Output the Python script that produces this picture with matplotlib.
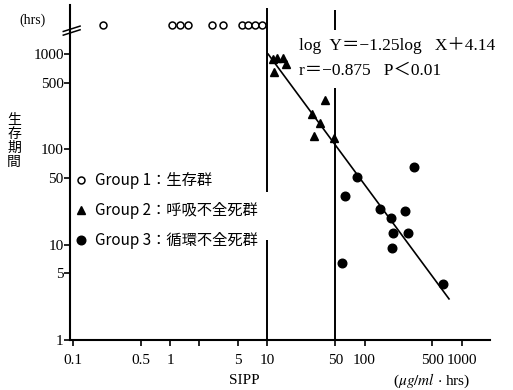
import matplotlib

matplotlib.use("Agg")
import matplotlib.pyplot as plt
from matplotlib.ticker import NullLocator

plt.rcParams["font.family"] = ["Liberation Serif", "Noto Sans CJK JP"]
plt.rcParams["mathtext.fontset"] = "stix"

# group 1: survivors, drawn above the axis break
g1_x = [0.204, 1.05, 1.26, 1.53, 2.70, 3.50, 5.49, 6.33, 7.46, 8.81]
surv_y = 2020

# group 2: respiratory failure deaths
g2_x = [11.4, 12.6, 14.5, 15.6, 11.7, 39.2, 28.8, 34.8, 30.2, 48.5]
g2_y = [886, 907, 907, 785, 646, 328, 234, 188, 137, 131]

# group 3: circulatory failure deaths
g3_x = [323, 83.7, 63, 144, 261, 187, 196, 280, 192, 58.6, 641]
g3_y = [66, 51, 32.8, 23.9, 22.8, 19.2, 13.4, 13.4, 9.3, 6.5, 3.9]

# regression line end points
line_x = [10.2, 740]
line_y = [1000, 2.7]

# reference lines at SIPP 10 and 50 (segments, broken by labels)
ref_segments = [
    (10, 1, 11.2), (10, 35.7, 3050),
    (50, 1, 441), (50, 1790, 2900),
]

x_ticks = [0.1, 0.5, 1, 2, 5, 10, 50, 100, 500, 1000]
x_labels = ["0.1", "0.5", "1", "", "5", "10", "50", "100", "500", "1000"]
y_ticks = [1, 5, 10, 50, 100, 500, 1000]
y_labels = ["1", "5", "10", "50", "100", "500", "1000"]

W, H = 513, 390
fig = plt.figure(figsize=(W / 100, H / 100), dpi=100)
ax = fig.add_axes([70 / W, 50 / H, 420 / W, 335 / H])
ax.set_xscale("log")
ax.set_yscale("log")
ax.set_xlim(0.0933, 1954)
ax.set_ylim(1, 3275)

for x, y0, y1 in ref_segments:
    ax.plot([x, x], [y0, y1], color="black", lw=1.4, solid_capstyle="butt")

ax.plot(line_x, line_y, color="black", lw=1.2)

h1, = ax.plot(g1_x, [surv_y] * len(g1_x), "o", mfc="white", mec="black",
              ms=5, mew=1.1, clip_on=False)
h2, = ax.plot(g2_x, g2_y, "^", color="black", ms=5.5)
h3, = ax.plot(g3_x, g3_y, "o", color="black", ms=6.2)

ax.spines["top"].set_visible(False)
ax.spines["right"].set_visible(False)
ax.spines["left"].set_linewidth(1.5)
ax.spines["bottom"].set_linewidth(1.5)

ax.set_xticks(x_ticks)
ax.set_xticklabels(x_labels)
ax.set_yticks(y_ticks)
ax.set_yticklabels(y_labels)
ax.xaxis.set_minor_locator(NullLocator())
ax.yaxis.set_minor_locator(NullLocator())
ax.tick_params(axis="x", direction="out", length=4, width=1.2, pad=6, labelsize=11)
ax.tick_params(axis="y", direction="out", length=4, width=1.2, pad=0.5, labelsize=11)

# axis break marks
for dy in (0.0, 0.011):
    ax.plot([-0.016, 0.024], [0.910 + dy, 0.926 + dy], color="black", lw=1.1,
            transform=ax.transAxes, clip_on=False)

leg = ax.legend(
    [h1, h2, h3],
    ["Group 1：生存群", "Group 2：呼吸不全死群", "Group 3：循環不全死群"],
    loc="upper left", bbox_to_anchor=(0.012, 0.501), frameon=False,
    borderpad=0, borderaxespad=0, labelspacing=0.85, handlelength=0.8,
    handletextpad=0.5, prop={"family": ["Noto Sans CJK JP"], "size": 11},
)

ax.text(0.545, 0.878, "log  Y＝−1.25log   X＋4.14", transform=ax.transAxes,
        va="center", ha="left", fontsize=12.5)
ax.text(0.545, 0.803, "r＝−0.875   P＜0.01", transform=ax.transAxes,
        va="center", ha="left", fontsize=12.5)

fig.text(33 / W, 1 - 20 / H, "(hrs)", ha="center", va="center", fontsize=10)
fig.text(14 / W, 1 - 141 / H, "生\n存\n期\n間", ha="center", va="center",
         fontsize=10, linespacing=1.0, family=["Noto Sans CJK JP"])
fig.text(244 / W, 1 - 381 / H, "SIPP", ha="center", va="center", fontsize=11)
fig.text(432 / W, 1 - 381 / H, r"($\mu g/ml$ $\cdot$ hrs)", ha="center",
         va="center", fontsize=11)

fig.savefig("out.png", dpi=100)
